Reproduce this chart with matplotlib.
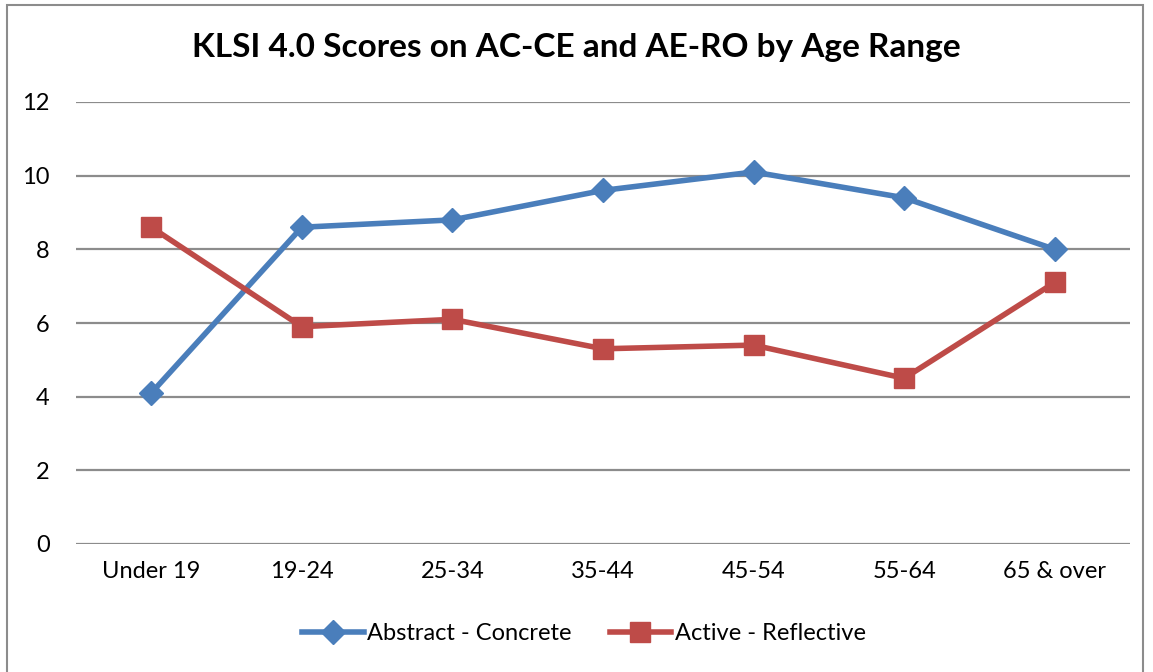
import numpy as np
import matplotlib.pyplot as plt
from matplotlib.patches import Rectangle

# data
age_ranges = ['Under 19', '19-24', '25-34', '35-44', '45-54', '55-64', '65 & over']
abstract_concrete = [4.1, 8.6, 8.8, 9.6, 10.1, 9.4, 8.0]
active_reflective = [8.6, 5.9, 6.1, 5.3, 5.4, 4.5, 7.1]
y_ticks = [0, 2, 4, 6, 8, 10, 12]

plt.rcParams['font.family'] = ['Lato', 'DejaVu Sans']

fig = plt.figure(figsize=(11.53, 6.72), dpi=100)
ax = fig.add_axes([76/1153, 1-544/672, (1130-76)/1153, (544-102)/672])

x = np.arange(len(age_ranges))
ax.plot(x, abstract_concrete, color='#4A7EBB', lw=4, marker='D', ms=12,
        label='Abstract - Concrete')
ax.plot(x, active_reflective, color='#BE4B48', lw=4, marker='s', ms=15,
        label='Active - Reflective')

ax.set_xlim(-0.5, len(age_ranges)-0.5)
ax.set_ylim(0, 12)
ax.set_yticks(y_ticks)
ax.set_xticks(x)
ax.set_xticklabels(age_ranges)
ax.tick_params(length=0, labelsize=17, pad=12)
ax.tick_params(axis='y', pad=19)
for s in ax.spines.values():
    s.set_visible(False)
ax.yaxis.grid(True, color='#8C8C8C', lw=1.6)
ax.set_axisbelow(True)

fig.text(0.5, 1-48/672, 'KLSI 4.0 Scores on AC-CE and AE-RO by Age Range',
         ha='center', va='center', fontsize=24, fontweight='bold')

ax.legend(loc='center', bbox_to_anchor=(0.482, (544-634)/442), ncol=2, frameon=False,
          fontsize=17, handlelength=2.6, columnspacing=1.6, handletextpad=0.15)

# chart border
fig.patches.append(Rectangle((7/1153, -0.05), (1143-7)/1153, 1.05-5/672,
                             transform=fig.transFigure, fill=False,
                             edgecolor='#8C8C8C', lw=1.5))

fig.savefig('out.png', dpi=100)
